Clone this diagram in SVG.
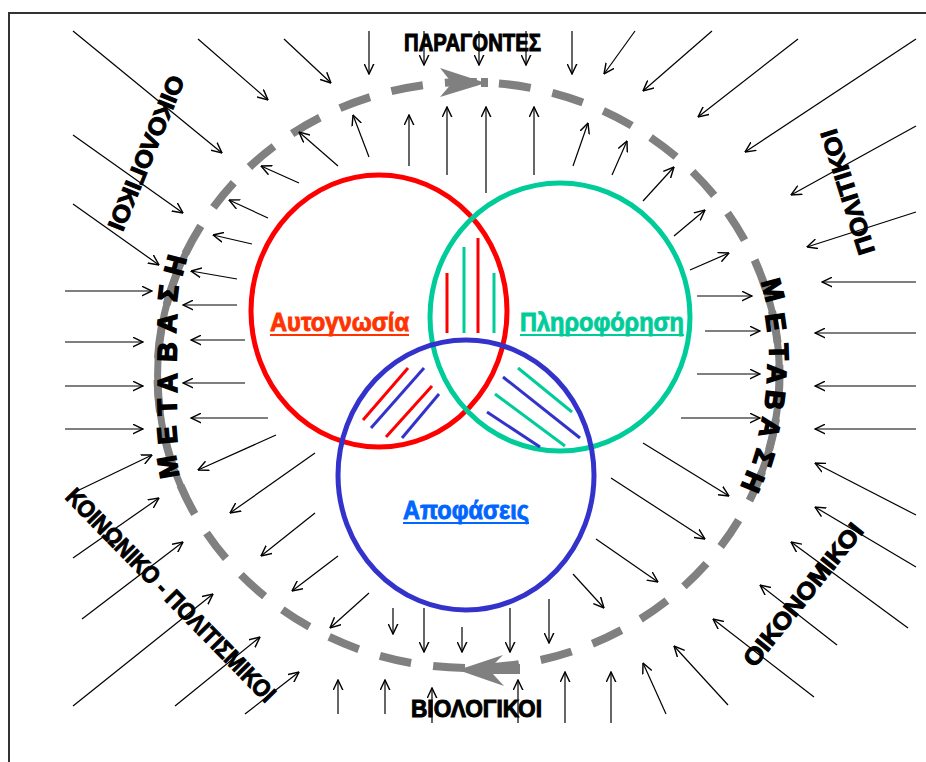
<svg xmlns="http://www.w3.org/2000/svg" width="926" height="762" viewBox="0 0 926 762">
<defs>
<marker id="ah" viewBox="0 0 10 10" refX="9.5" refY="5" markerWidth="11" markerHeight="11" markerUnits="userSpaceOnUse" orient="auto">
<path d="M0,0.5 L9.5,5 L0,9.5" fill="none" stroke="#000" stroke-width="1.3"/>
</marker>
<style>
.ar{stroke:#000;stroke-width:1.2;fill:none;marker-end:url(#ah)}
.h{stroke-width:3;stroke-linecap:butt}
</style>
</defs>
<rect x="0" y="0" width="926" height="762" fill="#fff"/>
<rect x="9" y="13" width="940" height="780" fill="none" stroke="#333" stroke-width="2"/>

<g id="cycle">
<ellipse cx="468.5" cy="375" rx="311" ry="293" fill="none" stroke="#808080" stroke-width="8" stroke-dasharray="32 22.2" stroke-dashoffset="10"/>
<path d="M187.3,250 A311,293 0 0 0 187.3,500" fill="none" stroke="#808080" stroke-width="7"/>
<path d="M762.7,280 A311,293 0 0 1 752,495" fill="none" stroke="#808080" stroke-width="7"/>
<path d="M440,68 L486,83 L440,97 L452,83 Z" fill="#808080"/>
<rect x="481" y="78" width="7" height="9" fill="#808080"/>
<path d="M458,670 L503,655 L493,665 L520,664 L520,674 L493,674 L504,686 Z" fill="#808080"/>
</g>

<g id="node-autognosia">
<ellipse cx="379" cy="311" rx="128" ry="136" fill="none" stroke="#FF0000" stroke-width="5"/>
</g>
<g id="node-pliroforisi">
<ellipse cx="560" cy="317" rx="130" ry="134" fill="none" stroke="#00CC99" stroke-width="5"/>
</g>
<g id="node-apofaseis">
<ellipse cx="466" cy="475" rx="128" ry="135" fill="none" stroke="#3333CC" stroke-width="5"/>
</g>

<g id="hatching">
<line class="h" x1="447" y1="273" x2="447" y2="333" stroke="#FF0000"/>
<line class="h" x1="464" y1="247" x2="464" y2="333" stroke="#00CC99"/>
<line class="h" x1="478" y1="238" x2="478" y2="333" stroke="#FF0000"/>
<line class="h" x1="494" y1="273" x2="494" y2="333" stroke="#00CC99"/>
<line class="h" x1="363" y1="420" x2="408" y2="368" stroke="#FF0000"/>
<line class="h" x1="371" y1="428" x2="424" y2="368" stroke="#3333CC"/>
<line class="h" x1="386" y1="437" x2="432" y2="386" stroke="#FF0000"/>
<line class="h" x1="402" y1="438" x2="439" y2="394" stroke="#3333CC"/>
<line class="h" x1="518" y1="368" x2="572" y2="412" stroke="#00CC99"/>
<line class="h" x1="503" y1="377" x2="580" y2="438" stroke="#3333CC"/>
<line class="h" x1="495" y1="394" x2="565" y2="446" stroke="#00CC99"/>
<line class="h" x1="487" y1="412" x2="540" y2="447" stroke="#3333CC"/>
</g>

<g font-family="'Liberation Sans', Arial, sans-serif" font-weight="bold" font-size="26" stroke-width="0.9">
<g id="label-autognosia">
<text x="270" y="331" fill="#FF3300" stroke="#FF3300" textLength="139" lengthAdjust="spacingAndGlyphs">Αυτογνωσία</text>
<line x1="270" y1="335" x2="409" y2="335" stroke="#FF3300" stroke-width="2"/>
</g>
<g id="label-pliroforisi">
<text x="520" y="331" fill="#00CC99" stroke="#00CC99" textLength="164" lengthAdjust="spacingAndGlyphs">Πληροφόρηση</text>
<line x1="520" y1="335" x2="684" y2="335" stroke="#00CC99" stroke-width="2"/>
</g>
<g id="label-apofaseis">
<text x="403" y="519" fill="#0066FF" stroke="#0066FF" textLength="126" lengthAdjust="spacingAndGlyphs">Αποφάσεις</text>
<line x1="403" y1="523" x2="529" y2="523" stroke="#0066FF" stroke-width="2"/>
</g>
</g>

<g font-family="'Liberation Sans', Arial, sans-serif" font-weight="bold" font-size="24" fill="#000" stroke="#000" stroke-width="1">
<g id="label-paragontes">
<text x="404" y="51" textLength="137" lengthAdjust="spacingAndGlyphs">ΠΑΡΑΓΟΝΤΕΣ</text>
</g>
<g id="label-viologikoi">
<text x="411" y="717" textLength="131" lengthAdjust="spacingAndGlyphs">ΒΙΟΛΟΓΙΚΟΙ</text>
</g>
<g id="label-oikologikoi" transform="translate(146.5,153) rotate(112.2)">
<text x="0" y="8.5" text-anchor="middle" textLength="165" lengthAdjust="spacingAndGlyphs">ΟΙΚΟΛΟΓΙΚΟΙ</text>
</g>
<g id="label-politikoi" transform="translate(847.5,192) rotate(-107.6)">
<text x="0" y="8.5" text-anchor="middle" textLength="130" lengthAdjust="spacingAndGlyphs">ΠΟΛΙΤΙΚΟΙ</text>
</g>
<g id="label-koinoniko" transform="translate(171,595) rotate(45.6)">
<text x="0" y="8.5" text-anchor="middle" textLength="288" lengthAdjust="spacingAndGlyphs">ΚΟΙΝΩΝΙΚΟ - ΠΟΛΙΤΙΣΜΙΚΟΙ</text>
</g>
<g id="label-oikonomikoi" transform="translate(803,594.5) rotate(-51.3)">
<text x="0" y="8.5" text-anchor="middle" textLength="176" lengthAdjust="spacingAndGlyphs">ΟΙΚΟΝΟΜΙΚΟΙ</text>
</g>
</g>

<g id="label-metavasi-left" font-family="'Liberation Sans', Arial, sans-serif" font-weight="bold" font-size="27" fill="#000" stroke="#000" stroke-width="1.6" text-anchor="middle">
<text transform="translate(168,467) rotate(-100)" y="9.5">Μ</text>
<text transform="translate(167,435) rotate(-95)" y="9.5">Ε</text>
<text transform="translate(167,407) rotate(-92)" y="9.5">Τ</text>
<text transform="translate(167,383) rotate(-90)" y="9.5">Α</text>
<text transform="translate(167,352) rotate(-88)" y="9.5">Β</text>
<text transform="translate(167,323) rotate(-86)" y="9.5">Α</text>
<text transform="translate(168,293) rotate(-83)" y="9.5">Σ</text>
<text transform="translate(175,265) rotate(-75)" y="9.5">Η</text>
</g>
<g id="label-metavasi-right" font-family="'Liberation Sans', Arial, sans-serif" font-weight="bold" font-size="27" fill="#000" stroke="#000" stroke-width="1.6" text-anchor="middle">
<text transform="translate(773,290) rotate(75)" y="9.5">Μ</text>
<text transform="translate(776,322) rotate(82)" y="9.5">Ε</text>
<text transform="translate(779,352) rotate(88)" y="9.5">Τ</text>
<text transform="translate(777,374) rotate(92)" y="9.5">Α</text>
<text transform="translate(775,400) rotate(97)" y="9.5">Β</text>
<text transform="translate(770,428) rotate(102)" y="9.5">Α</text>
<text transform="translate(764,458) rotate(107)" y="9.5">Σ</text>
<text transform="translate(753,482) rotate(113)" y="9.5">Η</text>
</g>

<g id="connectors">
<line class="ar" x1="73" y1="31" x2="222" y2="153"/>
<line class="ar" x1="198" y1="39" x2="268" y2="100"/>
<line class="ar" x1="284" y1="39" x2="331" y2="83"/>
<line class="ar" x1="369" y1="31" x2="369" y2="74"/>
<line class="ar" x1="424" y1="31" x2="424" y2="65"/>
<line class="ar" x1="479" y1="31" x2="479" y2="65"/>
<line class="ar" x1="526" y1="31" x2="526" y2="65"/>
<line class="ar" x1="572" y1="31" x2="572" y2="74"/>
<line class="ar" x1="635" y1="31" x2="604" y2="74"/>
<line class="ar" x1="712" y1="31" x2="643" y2="91"/>
<line class="ar" x1="798" y1="39" x2="698" y2="117"/>
<line class="ar" x1="916" y1="39" x2="745" y2="152"/>
<line class="ar" x1="916" y1="126" x2="791" y2="195"/>
<line class="ar" x1="916" y1="212" x2="807" y2="247"/>
<line class="ar" x1="916" y1="282" x2="822" y2="282"/>
<line class="ar" x1="916" y1="333" x2="815" y2="333"/>
<line class="ar" x1="916" y1="386" x2="815" y2="386"/>
<line class="ar" x1="916" y1="429" x2="815" y2="429"/>
<line class="ar" x1="916" y1="515" x2="815" y2="463"/>
<line class="ar" x1="916" y1="567" x2="815" y2="507"/>
<line class="ar" x1="908" y1="628" x2="791" y2="542"/>
<line class="ar" x1="837" y1="645" x2="760" y2="585"/>
<line class="ar" x1="814" y1="697" x2="713" y2="619"/>
<line class="ar" x1="728" y1="705" x2="674" y2="646"/>
<line class="ar" x1="666" y1="714" x2="643" y2="663"/>
<line class="ar" x1="611" y1="723" x2="611" y2="672"/>
<line class="ar" x1="565" y1="723" x2="565" y2="672"/>
<line class="ar" x1="518" y1="723" x2="518" y2="680"/>
<line class="ar" x1="432" y1="723" x2="432" y2="688"/>
<line class="ar" x1="385" y1="714" x2="385" y2="680"/>
<line class="ar" x1="338" y1="714" x2="338" y2="680"/>
<line class="ar" x1="245" y1="714" x2="299" y2="672"/>
<line class="ar" x1="175" y1="706" x2="260" y2="637"/>
<line class="ar" x1="73" y1="706" x2="213" y2="594"/>
<line class="ar" x1="82" y1="619" x2="183" y2="542"/>
<line class="ar" x1="73" y1="558" x2="159" y2="498"/>
<line class="ar" x1="75" y1="492" x2="152" y2="455"/>
<line class="ar" x1="65" y1="429" x2="143" y2="429"/>
<line class="ar" x1="65" y1="386" x2="143" y2="386"/>
<line class="ar" x1="65" y1="342" x2="143" y2="342"/>
<line class="ar" x1="65" y1="291" x2="152" y2="291"/>
<line class="ar" x1="73" y1="204" x2="159" y2="265"/>
<line class="ar" x1="73" y1="135" x2="183" y2="213"/>

<line class="ar" x1="338" y1="166" x2="299" y2="132"/>
<line class="ar" x1="369" y1="157" x2="353" y2="115"/>
<line class="ar" x1="409" y1="166" x2="409" y2="115"/>
<line class="ar" x1="447" y1="175" x2="447" y2="107"/>
<line class="ar" x1="486" y1="193" x2="486" y2="107"/>
<line class="ar" x1="534" y1="175" x2="534" y2="107"/>
<line class="ar" x1="573" y1="166" x2="588" y2="123"/>
<line class="ar" x1="612" y1="175" x2="627" y2="141"/>
<line class="ar" x1="643" y1="201" x2="674" y2="167"/>
<line class="ar" x1="674" y1="236" x2="705" y2="210"/>
<line class="ar" x1="690" y1="270" x2="729" y2="253"/>
<line class="ar" x1="697" y1="296" x2="752" y2="296"/>
<line class="ar" x1="705" y1="331" x2="760" y2="331"/>
<line class="ar" x1="697" y1="374" x2="760" y2="374"/>
<line class="ar" x1="681" y1="418" x2="760" y2="418"/>
<line class="ar" x1="643" y1="443" x2="729" y2="496"/>
<line class="ar" x1="611" y1="478" x2="705" y2="539"/>
<line class="ar" x1="596" y1="539" x2="658" y2="582"/>
<line class="ar" x1="573" y1="574" x2="604" y2="608"/>
<line class="ar" x1="549" y1="599" x2="549" y2="643"/>
<line class="ar" x1="510" y1="608" x2="510" y2="652"/>
<line class="ar" x1="462" y1="627" x2="462" y2="652"/>
<line class="ar" x1="424" y1="608" x2="424" y2="652"/>
<line class="ar" x1="393" y1="608" x2="393" y2="634"/>
<line class="ar" x1="369" y1="593" x2="330" y2="628"/>
<line class="ar" x1="338" y1="556" x2="292" y2="591"/>
<line class="ar" x1="315" y1="513" x2="261" y2="556"/>
<line class="ar" x1="315" y1="453" x2="230" y2="513"/>
<line class="ar" x1="276" y1="435" x2="198" y2="470"/>
<line class="ar" x1="268" y1="418" x2="191" y2="418"/>
<line class="ar" x1="245" y1="383" x2="183" y2="383"/>
<line class="ar" x1="245" y1="340" x2="191" y2="340"/>
<line class="ar" x1="237" y1="305" x2="183" y2="305"/>
<line class="ar" x1="237" y1="279" x2="191" y2="271"/>
<line class="ar" x1="252" y1="244" x2="213" y2="235"/>
<line class="ar" x1="268" y1="218" x2="229" y2="200"/>
<line class="ar" x1="299" y1="183" x2="261" y2="166"/>
</g>
</svg>
